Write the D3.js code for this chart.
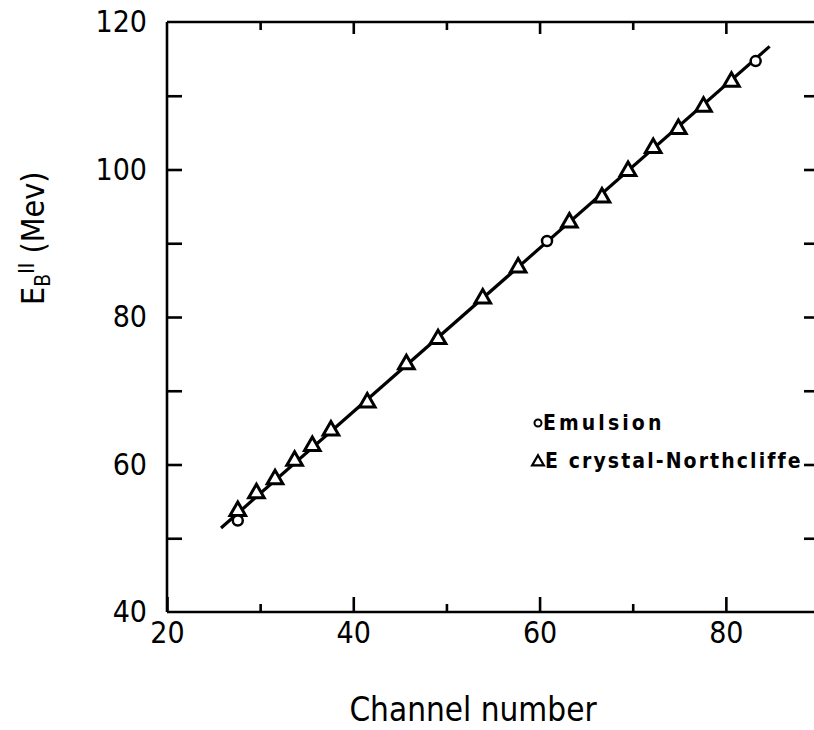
<!DOCTYPE html>
<html>
<head>
<meta charset="utf-8">
<script src="https://cdn.jsdelivr.net/npm/d3@7"></script>
<style>
  html, body { margin: 0; padding: 0; background: #fff; }
  svg { display: block; }
  text { font-family: "DejaVu Sans Condensed", "DejaVu Sans", sans-serif; font-stretch: condensed; fill: #000; }
</style>
</head>
<body>
<svg id="chart" width="814" height="730"></svg>
<script>
// ---- data ----
const northX = [27.6, 29.6, 31.6, 33.7, 35.6, 37.6, 41.5, 45.7, 49.1, 53.9, 57.7, 63.2, 66.7, 69.5, 72.2, 74.9, 77.6, 80.6];
const northY = [53.7, 56.1, 58.0, 60.5, 62.5, 64.6, 68.4, 73.6, 77.0, 82.5, 86.7, 92.8, 96.2, 99.8, 102.9, 105.5, 108.5, 111.9];
const emulX = [27.6, 60.8, 83.2];
const emulY = [52.4, 90.3, 114.7];
const fitX = [25.8, 84.7];
const fitY = [51.4, 116.7];
const xMajor = [20, 40, 60, 80];
const xMinor = [30, 50, 70];
const yMajor = [40, 60, 80, 100, 120];
const yMinor = [50, 70, 90, 110];
const legendLabels = ["Emulsion", "E crystal-Northcliffe"];

const svg = d3.select("#chart");
const x = d3.scaleLinear().domain([20, 90]).range([167, 819]);
const y = d3.scaleLinear().domain([40, 120]).range([612, 22]);
const SW = 2.6;

// frame lines
const frame = svg.append("g").attr("stroke", "#000").attr("stroke-width", SW).attr("fill", "none");
frame.append("line").attr("x1", x(20)).attr("x2", x(90)).attr("y1", y(40)).attr("y2", y(40));
frame.append("line").attr("x1", x(20)).attr("x2", x(90)).attr("y1", y(120)).attr("y2", y(120));
frame.append("line").attr("x1", x(20)).attr("x2", x(20)).attr("y1", y(40)).attr("y2", y(120));
frame.append("line").attr("x1", x(90)).attr("x2", x(90)).attr("y1", y(40)).attr("y2", y(120));

function styleAxis(g) {
  g.select(".domain").remove();
  g.selectAll(".tick line").attr("stroke", "#000").attr("stroke-width", SW);
  g.selectAll(".tick text").attr("font-size", 30).attr("fill", "#000");
}

// bottom axis
svg.append("g").attr("transform", `translate(0,${y(40)})`)
  .call(d3.axisBottom(x).tickValues(xMajor).tickSize(-15).tickSizeOuter(0).tickPadding(10).tickFormat(d3.format("d")))
  .call(styleAxis);
svg.append("g").attr("transform", `translate(0,${y(40)})`)
  .call(d3.axisBottom(x).tickValues(xMinor).tickSize(-8).tickSizeOuter(0).tickFormat(""))
  .call(styleAxis);
// top axis
svg.append("g").attr("transform", `translate(0,${y(120)})`)
  .call(d3.axisTop(x).tickValues(xMajor.filter(d => d > 20)).tickSize(-12).tickSizeOuter(0).tickFormat(""))
  .call(styleAxis);
svg.append("g").attr("transform", `translate(0,${y(120)})`)
  .call(d3.axisTop(x).tickValues(xMinor).tickSize(-8).tickSizeOuter(0).tickFormat(""))
  .call(styleAxis);
// left axis
svg.append("g").attr("transform", `translate(${x(20)},0)`)
  .call(d3.axisLeft(y).tickValues(yMajor).tickSize(-15).tickSizeOuter(0).tickPadding(20).tickFormat(d3.format("d")))
  .call(styleAxis)
  .call(g => g.selectAll(".tick line").filter(d => d === 40 || d === 120).remove());
svg.append("g").attr("transform", `translate(${x(20)},0)`)
  .call(d3.axisLeft(y).tickValues(yMinor).tickSize(-15).tickSizeOuter(0).tickFormat(""))
  .call(styleAxis);
// right axis
svg.append("g").attr("transform", `translate(${x(90)},0)`)
  .call(d3.axisRight(y).tickValues(yMajor.concat(yMinor).filter(d => d > 40 && d < 120)).tickSize(-15).tickSizeOuter(0).tickFormat(""))
  .call(styleAxis);

// fitted line
const line = d3.line().x(d => x(d[0])).y(d => y(d[1]));
svg.append("path").datum(d3.zip(fitX, fitY)).attr("d", line)
  .attr("fill", "none").attr("stroke", "#000").attr("stroke-width", 3.2);

// triangles
const tri = d3.symbol().type(d3.symbolTriangle).size(105);
svg.append("g").selectAll("path").data(d3.zip(northX, northY)).join("path")
  .attr("d", tri)
  .attr("transform", d => `translate(${x(d[0])},${y(d[1])})`)
  .attr("fill", "#fff").attr("stroke", "#000").attr("stroke-width", 3)
  .attr("stroke-linejoin", "miter");
// circles
svg.append("g").selectAll("circle").data(d3.zip(emulX, emulY)).join("circle")
  .attr("cx", d => x(d[0])).attr("cy", d => y(d[1])).attr("r", 5)
  .attr("fill", "#fff").attr("stroke", "#000").attr("stroke-width", 2.5);

// legend
const leg = svg.append("g");
leg.append("circle").attr("cx", 538).attr("cy", 423).attr("r", 3.5)
  .attr("fill", "none").attr("stroke", "#000").attr("stroke-width", 2);
leg.append("text").attr("x", 543).attr("y", 430).attr("font-size", 21).attr("font-weight", "bold")
  .attr("letter-spacing", 3.1).text(legendLabels[0]);
leg.append("path").attr("d", d3.symbol().type(d3.symbolTriangle).size(60))
  .attr("transform", "translate(538,462)").attr("fill", "none").attr("stroke", "#000").attr("stroke-width", 2.2);
leg.append("text").attr("x", 545).attr("y", 468).attr("font-size", 21).attr("font-weight", "bold")
  .attr("letter-spacing", 2.1).text(legendLabels[1]);

// x title
svg.append("text").attr("x", 473).attr("y", 721).attr("text-anchor", "middle")
  .attr("font-size", 33).text("Channel number");

// y title
const yt = svg.append("text").attr("transform", "translate(44,305) rotate(-90)")
  .attr("font-size", 32);
yt.append("tspan").text("E");
yt.append("tspan").attr("dy", 6).attr("font-size", 21).text("B");
yt.append("tspan").attr("dy", -16).attr("font-size", 21).text("II");
yt.append("tspan").attr("dy", 10).text(" (Mev)");
</script>
</body>
</html>
